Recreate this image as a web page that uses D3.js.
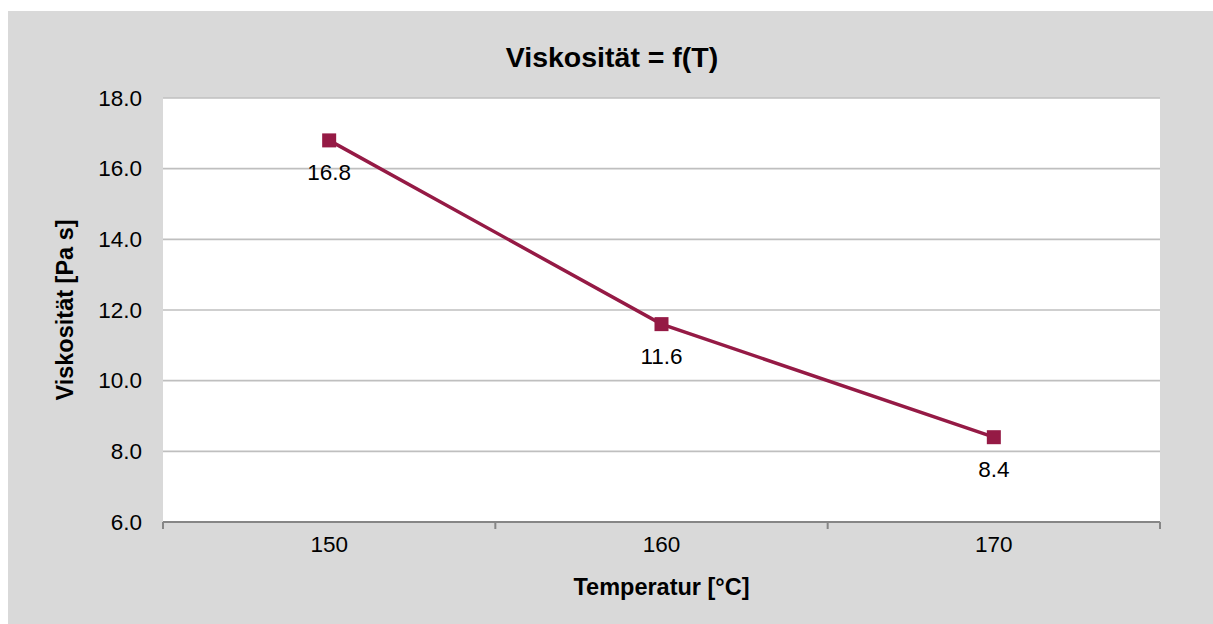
<!DOCTYPE html>
<html>
<head>
<meta charset="utf-8">
<script src="https://cdn.jsdelivr.net/npm/d3@7"></script>
<style>
  html, body { margin: 0; padding: 0; background: #ffffff; }
  svg { display: block; font-family: "Liberation Sans", Arial, sans-serif; }
</style>
</head>
<body>
<svg id="chart" width="1213" height="624"></svg>
<script>
const categories = ["150", "160", "170"];
const viscosity = [16.8, 11.6, 8.4];
const yTicks = [6, 8, 10, 12, 14, 16, 18];
const chartTitle = "Viskosität = f(T)";
const xTitle = "Temperatur [°C]";
const yTitle = "Viskosität [Pa s]";

const svg = d3.select("#chart");
const W = 1213, H = 624;
const plot = { left: 163, top: 98, right: 1160, bottom: 522 };
const lineColor = "#951a45";

svg.append("rect").attr("x", 8).attr("y", 11).attr("width", W - 8).attr("height", H - 11)
  .attr("fill", "#d9d9d9");

svg.append("rect").attr("x", plot.left).attr("y", plot.top)
  .attr("width", plot.right - plot.left).attr("height", plot.bottom - plot.top)
  .attr("fill", "#ffffff");

const x = d3.scaleBand().domain(categories).range([plot.left, plot.right]).padding(0);
const y = d3.scaleLinear().domain([6, 18]).range([plot.bottom, plot.top]);

// gridlines
svg.append("g").selectAll("line").data(yTicks.filter(t => t > 6)).join("line")
  .attr("x1", plot.left).attr("x2", plot.right)
  .attr("y1", d => y(d)).attr("y2", d => y(d))
  .attr("stroke", "#bfbfbf").attr("stroke-width", 1.6);

// y axis labels
const yAxis = d3.axisLeft(y).tickValues(yTicks).tickFormat(d3.format(".1f")).tickSize(0).tickPadding(21);
const gy = svg.append("g").attr("transform", `translate(${plot.left},0)`).call(yAxis);
gy.select(".domain").remove();
gy.selectAll("text").attr("font-size", 22.5).attr("fill", "#000").attr("font-family", "Liberation Sans, Arial, sans-serif");

// x axis
const xAxis = d3.axisBottom(x).tickSize(0).tickPadding(14);
const gx = svg.append("g").attr("transform", `translate(0,${plot.bottom})`).call(xAxis);
gx.select(".domain").remove();
gx.selectAll("text").attr("font-size", 22.5).attr("fill", "#000").attr("font-family", "Liberation Sans, Arial, sans-serif");

// axis line + boundary ticks
svg.append("line").attr("x1", plot.left).attr("x2", plot.right)
  .attr("y1", plot.bottom).attr("y2", plot.bottom)
  .attr("stroke", "#868686").attr("stroke-width", 2);
const boundaries = categories.map(c => x(c)).concat([x(categories[categories.length - 1]) + x.bandwidth()]);
svg.append("g").selectAll("line").data(boundaries).join("line")
  .attr("x1", d => d).attr("x2", d => d)
  .attr("y1", plot.bottom).attr("y2", plot.bottom + 7)
  .attr("stroke", "#868686").attr("stroke-width", 2);

// line
const cx = d => x(d) + x.bandwidth() / 2;
const pts = categories.map((c, i) => [cx(c), y(viscosity[i])]);
svg.append("path").attr("d", d3.line()(pts))
  .attr("fill", "none").attr("stroke", lineColor).attr("stroke-width", 3.5);

// markers
const ms = 14;
svg.append("g").selectAll("rect").data(pts).join("rect")
  .attr("x", d => d[0] - ms / 2).attr("y", d => d[1] - ms / 2)
  .attr("width", ms).attr("height", ms).attr("fill", lineColor);

// data labels
svg.append("g").selectAll("text").data(categories).join("text")
  .attr("x", c => cx(c)).attr("y", (c, i) => y(viscosity[i]) + 40)
  .attr("text-anchor", "middle").attr("font-size", 22.5).attr("fill", "#000")
  .text((c, i) => viscosity[i].toFixed(1));

// titles
svg.append("text").attr("x", 612).attr("y", 67).attr("text-anchor", "middle")
  .attr("font-size", 28.5).attr("font-weight", "bold").text(chartTitle);
svg.append("text").attr("x", (plot.left + plot.right) / 2).attr("y", 595).attr("text-anchor", "middle")
  .attr("font-size", 23.5).attr("font-weight", "bold").text(xTitle);
svg.append("text").attr("transform", `translate(73,${(plot.top + plot.bottom) / 2}) rotate(-90)`)
  .attr("text-anchor", "middle")
  .attr("font-size", 23.5).attr("font-weight", "bold").text(yTitle);
</script>
</body>
</html>
